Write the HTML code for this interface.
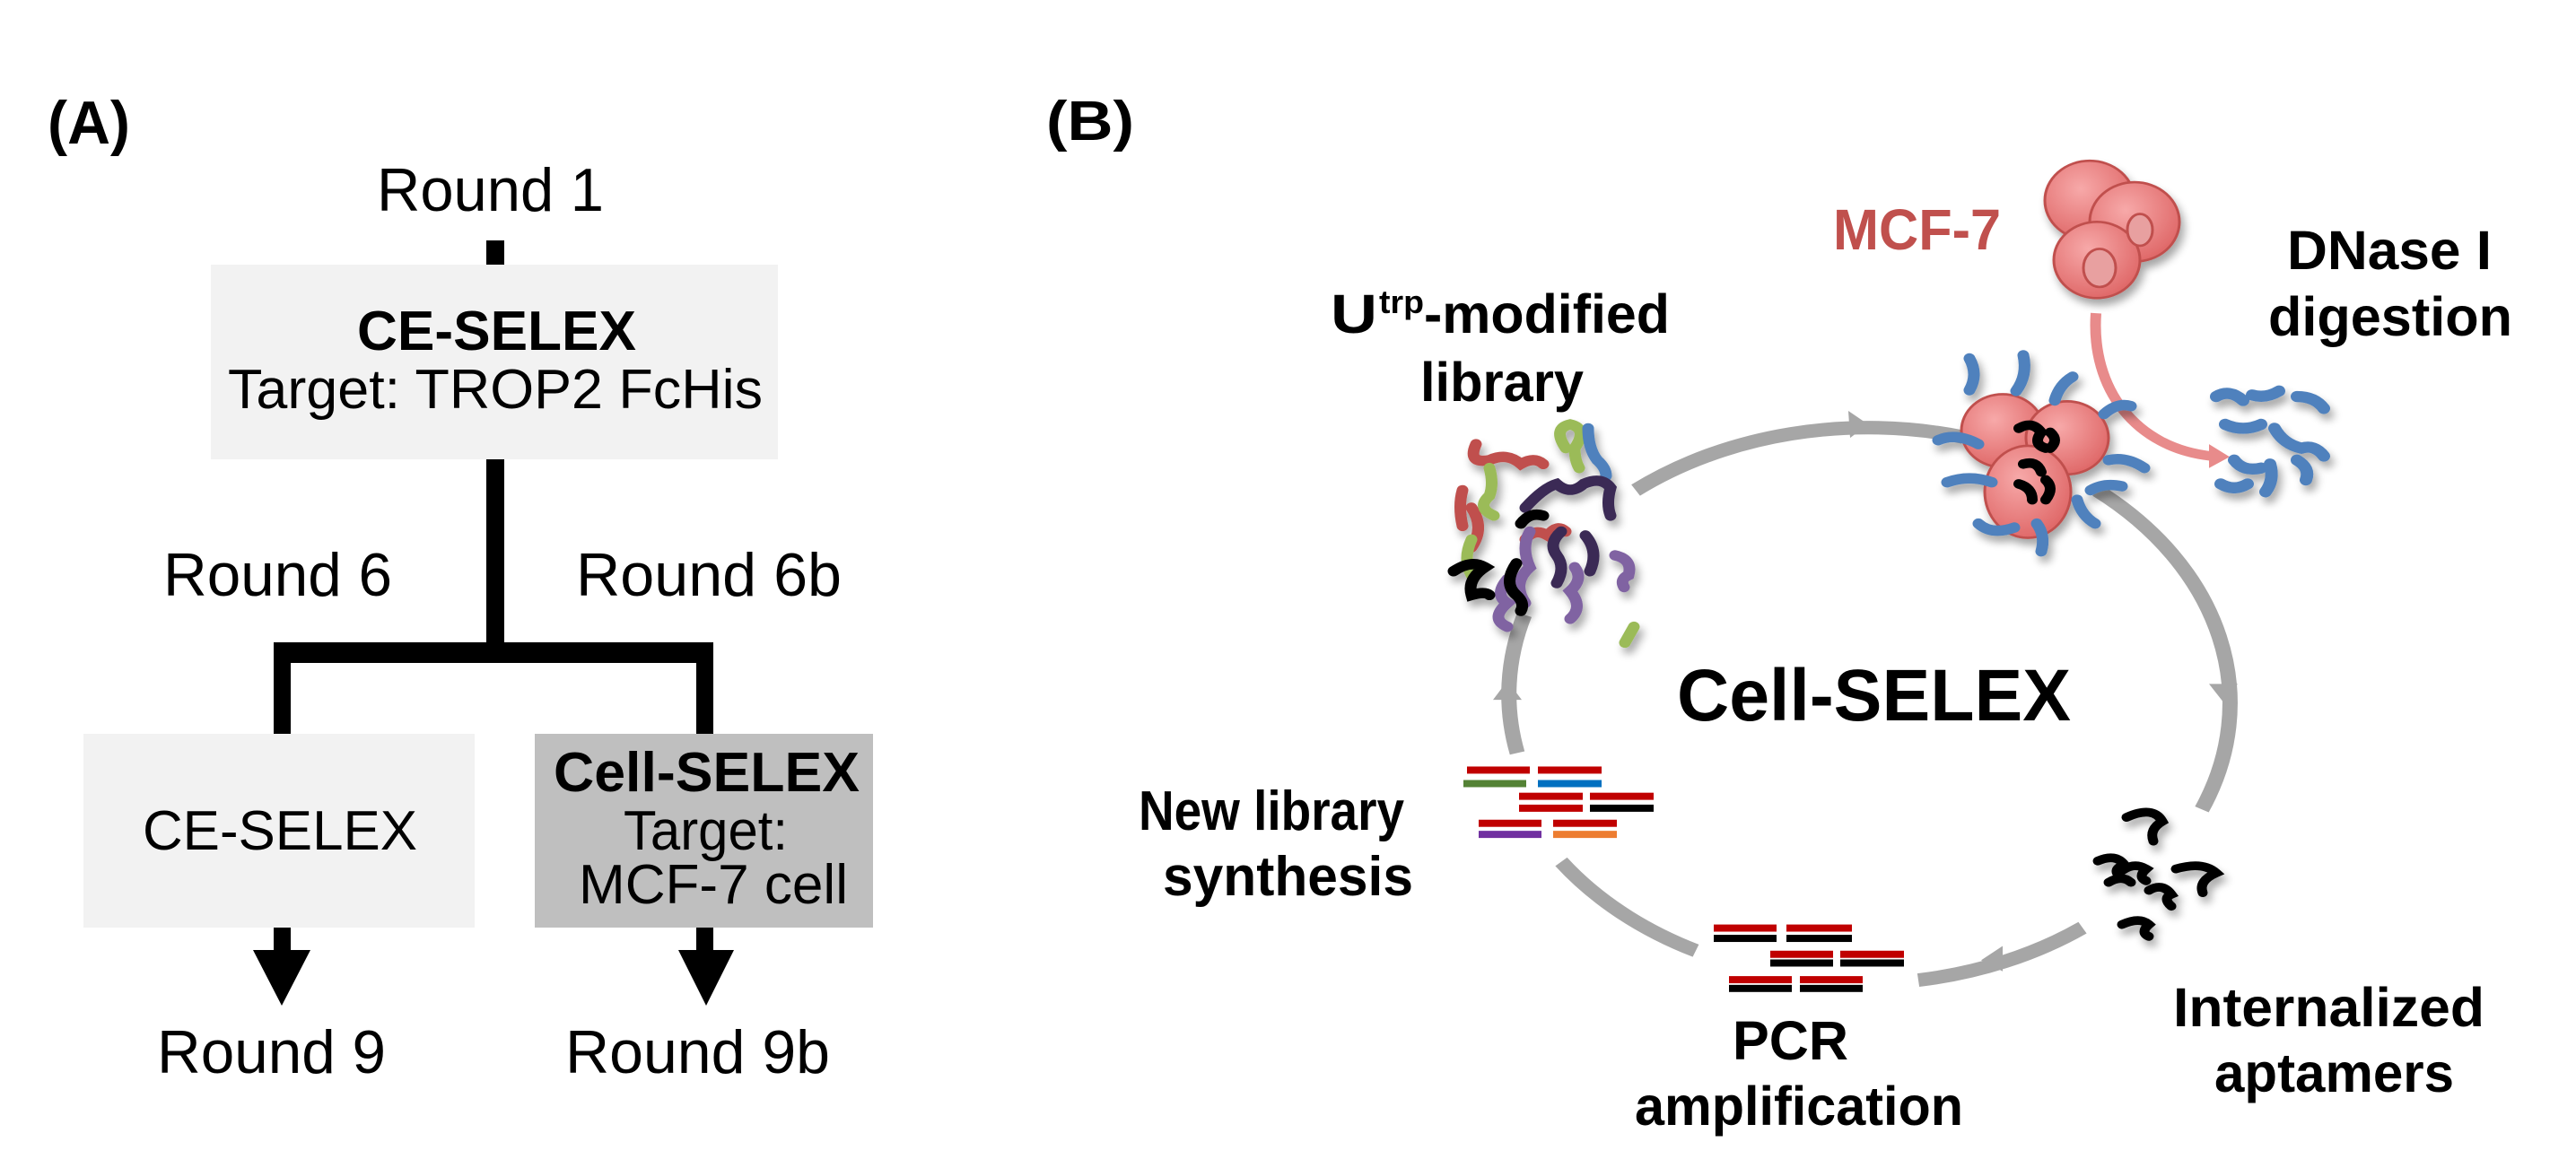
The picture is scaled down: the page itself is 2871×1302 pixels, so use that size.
<!DOCTYPE html>
<html><head><meta charset="utf-8"><style>
html,body{margin:0;padding:0;background:#fff;overflow:hidden;}
svg{display:block;}
text{font-family:"Liberation Sans",Arial,sans-serif;}
.b{font-weight:bold;}
</style></head><body>
<svg width="2871" height="1302" viewBox="0 0 2871 1302" xmlns="http://www.w3.org/2000/svg">
<defs>
<filter id="sh" x="-20%" y="-20%" width="150%" height="150%"><feGaussianBlur in="SourceAlpha" stdDeviation="5"/><feOffset dx="4" dy="8"/><feComponentTransfer><feFuncA type="linear" slope="0.35"/></feComponentTransfer><feMerge><feMergeNode/><feMergeNode in="SourceGraphic"/></feMerge></filter>
<radialGradient id="cell" cx="40%" cy="35%" r="65%"><stop offset="0" stop-color="#f7a9a9"/><stop offset="1" stop-color="#e06a6a"/></radialGradient>
</defs>
<!-- Panel A -->
<text x="53" y="160" class="b" font-size="68" textLength="92" lengthAdjust="spacingAndGlyphs">(A)</text>
<text x="420" y="235" font-size="68" textLength="253" lengthAdjust="spacingAndGlyphs">Round 1</text>
<rect x="542" y="268" width="20" height="27" fill="#000"/>
<rect x="235" y="295" width="632" height="217" fill="#f2f2f2"/>
<text x="398" y="390" class="b" font-size="62" textLength="311" lengthAdjust="spacingAndGlyphs">CE-SELEX</text>
<text x="254" y="455" font-size="62" textLength="596" lengthAdjust="spacingAndGlyphs">Target:  TROP2 FcHis</text>
<rect x="542" y="512" width="20" height="212" fill="#000"/>
<rect x="305" y="716" width="490" height="23" fill="#000"/>
<rect x="305" y="722" width="19" height="96" fill="#000"/>
<rect x="776" y="722" width="19" height="96" fill="#000"/>
<text x="182" y="664" font-size="68" textLength="255" lengthAdjust="spacingAndGlyphs">Round 6</text>
<text x="642" y="664" font-size="68" textLength="296" lengthAdjust="spacingAndGlyphs">Round 6b</text>
<rect x="93" y="818" width="436" height="216" fill="#f2f2f2"/>
<text x="159" y="947" font-size="62" textLength="306" lengthAdjust="spacingAndGlyphs">CE-SELEX</text>
<rect x="596" y="818" width="377" height="216" fill="#bfbfbf"/>
<text x="617" y="882" class="b" font-size="62" textLength="341" lengthAdjust="spacingAndGlyphs">Cell-SELEX</text>
<text x="695" y="947" font-size="62" textLength="183" lengthAdjust="spacingAndGlyphs">Target:</text>
<text x="645" y="1007" font-size="62" textLength="300" lengthAdjust="spacingAndGlyphs">MCF-7 cell</text>
<rect x="305" y="1034" width="19" height="29" fill="#000"/>
<polygon points="282,1059 346,1059 314,1121" fill="#000"/>
<rect x="776" y="1034" width="19" height="29" fill="#000"/>
<polygon points="756,1059 818,1059 787,1121" fill="#000"/>
<text x="175" y="1196" font-size="68" textLength="255" lengthAdjust="spacingAndGlyphs">Round 9</text>
<text x="630" y="1196" font-size="68" textLength="295" lengthAdjust="spacingAndGlyphs">Round 9b</text>

<!-- Panel B text -->
<text x="1166" y="156" class="b" font-size="62" textLength="98" lengthAdjust="spacingAndGlyphs">(B)</text>
<text x="1869" y="803" class="b" font-size="82" textLength="439" lengthAdjust="spacingAndGlyphs">Cell-SELEX</text>
<text x="2043" y="278" class="b" font-size="64" fill="#c0504d" textLength="187" lengthAdjust="spacingAndGlyphs">MCF-7</text>
<text x="2549" y="300" class="b" font-size="61" textLength="228" lengthAdjust="spacingAndGlyphs">DNase I</text>
<text x="2528" y="374" class="b" font-size="61" textLength="272" lengthAdjust="spacingAndGlyphs">digestion</text>
<text x="1483" y="371" class="b" font-size="61" textLength="52" lengthAdjust="spacingAndGlyphs">U</text>
<text x="1537" y="349" class="b" font-size="36" textLength="50" lengthAdjust="spacingAndGlyphs">trp</text>
<text x="1587" y="371" class="b" font-size="61" textLength="274" lengthAdjust="spacingAndGlyphs">-modified</text>
<text x="1583" y="447" class="b" font-size="61" textLength="182" lengthAdjust="spacingAndGlyphs">library</text>
<text x="1269" y="925" class="b" font-size="62" textLength="296" lengthAdjust="spacingAndGlyphs">New library</text>
<text x="1296" y="998" class="b" font-size="62" textLength="279" lengthAdjust="spacingAndGlyphs">synthesis</text>
<text x="1931" y="1181" class="b" font-size="61" textLength="129" lengthAdjust="spacingAndGlyphs">PCR</text>
<text x="1822" y="1254" class="b" font-size="61" textLength="366" lengthAdjust="spacingAndGlyphs">amplification</text>
<text x="2422" y="1144" class="b" font-size="61" textLength="347" lengthAdjust="spacingAndGlyphs">Internalized</text>
<text x="2468" y="1217" class="b" font-size="61" textLength="267" lengthAdjust="spacingAndGlyphs">aptamers</text>

<g transform="translate(0,150) scale(1,0.885) translate(0,-150)">
<g fill="none" stroke="#a6a6a6" stroke-width="17">
<path d="M1823,598 A409,348 0 0 1 2188,531"/>
<path d="M2337,598 A409,348 0 0 1 2454,1000"/>
<path d="M2321,1149 A409,348 0 0 1 2138,1215"/>
<path d="M1890,1178 A409,348 0 0 1 1740,1066"/>
<path d="M1691,929 A409,348 0 0 1 1699,755"/>
</g>
<g fill="#a6a6a6">
<polygon points="2082,515 2060,498 2062,532"/>
<polygon points="2478,865 2462,842 2494,842"/>
<polygon points="2208,1190 2232,1172 2232,1204"/>
<polygon points="1680,838 1664,862 1696,862"/>
</g>

<!-- MCF-7 cells -->
<g filter="url(#sh)" stroke="#c0504d" stroke-width="3">
<circle cx="2329" cy="233" r="50" fill="url(#cell)"/>
<circle cx="2379" cy="260" r="50" fill="url(#cell)"/>
<circle cx="2337" cy="308" r="48" fill="url(#cell)"/>
<ellipse cx="2340" cy="318" rx="18" ry="24" fill="#e8a0a0"/>
<ellipse cx="2385" cy="270" rx="14" ry="20" fill="#e8a0a0"/>
</g>
<path d="M2336,375 C2330,470 2380,545 2465,555" fill="none" stroke="#e88b8b" stroke-width="12"/>
<polygon points="2462,540 2485,556 2462,570" fill="#e88b8b"/>

<!-- cell with aptamers -->
<g filter="url(#sh)">
<circle cx="2232" cy="523" r="46" fill="url(#cell)" stroke="#c0504d" stroke-width="3"/>
<circle cx="2304" cy="532" r="46" fill="url(#cell)" stroke="#c0504d" stroke-width="3"/>
<ellipse cx="2260" cy="600" rx="48" ry="58" fill="url(#cell)" stroke="#c0504d" stroke-width="3"/>
<g fill="none" stroke="#4f81bd" stroke-width="13" stroke-linecap="round">
<path d="M2195,432 q10,20 0,40"/><path d="M2255,428 q5,25 -8,45"/><path d="M2310,455 q-15,10 -20,30"/>
<path d="M2160,535 q20,-10 45,5"/><path d="M2170,588 q25,-10 50,0"/><path d="M2205,640 q15,15 40,5"/>
<path d="M2270,640 q10,15 5,35"/><path d="M2350,560 q20,-5 40,10"/><path d="M2330,598 q15,-10 35,-5"/>
<path d="M2315,610 q5,20 20,30"/><path d="M2345,502 q15,-15 30,-10"/>
</g>
<g fill="none" stroke="#000" stroke-width="12" stroke-linecap="round">
<path d="M2250,520 q15,-10 25,5 q-10,15 5,20"/><path d="M2285,525 q10,10 0,20"/><path d="M2255,565 q15,-5 20,10"/>
<path d="M2250,590 q15,5 15,20"/><path d="M2280,585 q10,10 0,25"/>
</g>
</g>
<g filter="url(#sh)" fill="none" stroke="#4f81bd" stroke-width="14" stroke-linecap="round">
<path d="M2470,480 q15,-10 30,5"/><path d="M2510,478 q15,5 30,-5"/><path d="M2560,480 q20,0 30,15"/>
<path d="M2480,515 q20,10 40,0"/><path d="M2535,520 q10,20 30,25 q15,-5 25,10"/>
<path d="M2490,560 q10,15 30,10"/><path d="M2530,565 q5,20 -5,35"/><path d="M2560,560 q15,10 10,25"/>
<path d="M2475,590 q15,10 30,0"/>
</g>

<!-- library squiggles -->
<g filter="url(#sh)" fill="none" stroke-width="13" stroke-linecap="round">
<path d="M1645,540 q-10,25 15,20 q20,-10 35,5 q15,-10 25,0" stroke="#c0504d"/>
<path d="M1630,598 q-5,20 0,45 M1640,620 q15,25 0,50" stroke="#c0504d"/>
<path d="M1700,660 q10,-15 25,-5 q10,-15 20,-5" stroke="#c0504d"/>
<path d="M1660,570 q5,20 0,35 q-15,15 5,25" stroke="#9bbb59"/>
<path d="M1745,545 q-15,-25 5,-30 q20,5 5,30 q0,15 5,25" stroke="#9bbb59"/>
<path d="M1640,660 q-10,25 0,45" stroke="#9bbb59"/>
<path d="M1811,790 q5,-10 10,-20" stroke="#9bbb59"/>
<path d="M1770,520 q0,25 10,40 q10,10 10,20" stroke="#4f81bd"/>
<path d="M1700,620 q20,-25 35,-30 q15,15 30,0 q20,-10 30,5 q-5,20 0,35" stroke="#3b2c55"/>
<path d="M1735,715 q10,-20 0,-35 q-10,-15 5,-30" stroke="#3b2c55"/>
<path d="M1772,700 q10,-25 -5,-45" stroke="#3b2c55"/>
<path d="M1700,740 q-15,-25 5,-45 q-10,-25 0,-45" stroke="#8064a2"/>
<path d="M1750,760 q15,-15 0,-35 q15,-15 5,-30" stroke="#8064a2"/>
<path d="M1800,680 q20,5 15,25 q-10,5 -5,15" stroke="#8064a2"/>
<path d="M1680,770 q-20,-10 0,-30 q-15,-10 0,-30" stroke="#8064a2"/>
<path d="M1620,700 q20,-15 35,-5 q-20,15 -15,35 q15,-5 20,0" stroke="#000"/>
<path d="M1690,690 q-15,25 0,40 q10,10 5,20" stroke="#000"/>
<path d="M1695,640 q10,-15 25,-10" stroke="#000"/>
</g>

<g filter="url(#sh)" fill="none" stroke="#000" stroke-width="11" stroke-linecap="round">
<path d="M2370,1010 q30,-15 40,5 q-15,10 -10,25"/>
<path d="M2338,1065 q20,-10 30,5 q-15,5 -5,15"/>
<path d="M2362,1080 q15,-15 30,-5 q-10,10 0,15"/>
<path d="M2425,1075 q30,-10 45,5 q-20,10 -15,25"/>
<path d="M2395,1102 q15,-10 25,5 q-10,5 0,15"/>
<path d="M2365,1145 q20,-10 30,0 q-10,10 0,15"/>
<path d="M2350,1092 q15,-10 25,0"/>
</g>

<g>
<rect x="1635" y="946" width="70" height="9" fill="#c00000"/><rect x="1714" y="946" width="71" height="9" fill="#c00000"/>
<rect x="1631" y="963" width="70" height="9" fill="#548235"/><rect x="1714" y="963" width="71" height="9" fill="#0070c0"/>
<rect x="1693" y="979" width="71" height="9" fill="#c00000"/><rect x="1772" y="979" width="71" height="9" fill="#c00000"/>
<rect x="1693" y="994" width="71" height="9" fill="#c00000"/><rect x="1772" y="994" width="71" height="9" fill="#000"/>
<rect x="1648" y="1013" width="70" height="9" fill="#c00000"/><rect x="1731" y="1013" width="71" height="9" fill="#c00000"/>
<rect x="1648" y="1027" width="70" height="9" fill="#7030a0"/><rect x="1731" y="1027" width="71" height="9" fill="#ed7d31"/>
</g>
<g>
<rect x="1910" y="1145" width="70" height="9" fill="#c00000"/><rect x="1991" y="1145" width="73" height="9" fill="#c00000"/>
<rect x="1910" y="1158" width="70" height="9" fill="#000"/><rect x="1991" y="1158" width="73" height="9" fill="#000"/>
<rect x="1973" y="1178" width="70" height="9" fill="#c00000"/><rect x="2051" y="1178" width="71" height="9" fill="#c00000"/>
<rect x="1973" y="1189" width="70" height="9" fill="#000"/><rect x="2051" y="1189" width="71" height="9" fill="#000"/>
<rect x="1927" y="1210" width="70" height="9" fill="#c00000"/><rect x="2006" y="1210" width="70" height="9" fill="#c00000"/>
<rect x="1927" y="1221" width="70" height="9" fill="#000"/><rect x="2006" y="1221" width="70" height="9" fill="#000"/>
</g>
</g>
</svg>
</body></html>
